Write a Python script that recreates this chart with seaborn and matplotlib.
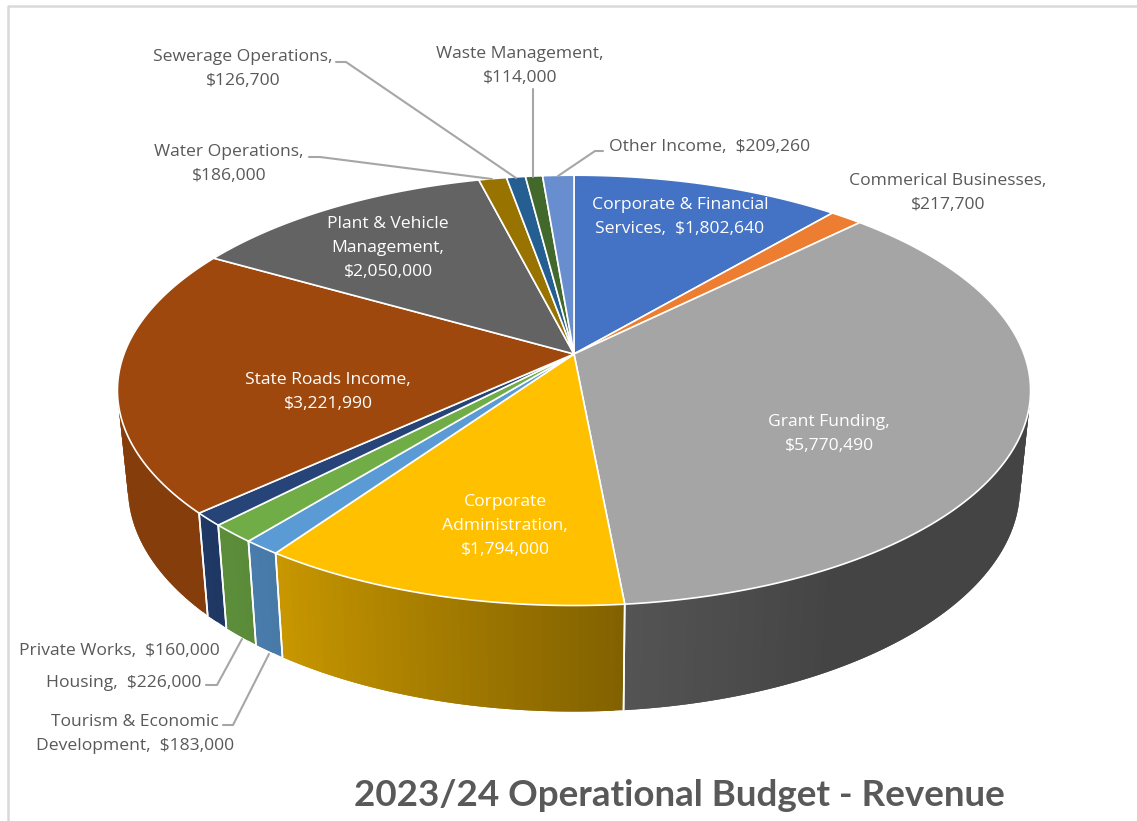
import numpy as np
import pandas as pd
import matplotlib
matplotlib.use("Agg")
import matplotlib.pyplot as plt
import seaborn as sns

categories = ["Corporate & Financial Services", "Commerical Businesses", "Grant Funding",
              "Corporate Administration", "Tourism & Economic Development", "Housing",
              "Private Works", "State Roads Income", "Plant & Vehicle Management",
              "Water Operations", "Sewerage Operations", "Waste Management", "Other Income"]
revenue = [1802640, 217700, 5770490, 1794000, 183000, 226000, 160000,
           3221990, 2050000, 186000, 126700, 114000, 209260]
colours = ["#4472C4", "#ED7D31", "#A5A5A5", "#FFC000", "#5B9BD5", "#70AD47", "#264478",
           "#9E480E", "#636363", "#997300", "#255E91", "#43682B", "#698ED0"]

# label text, centre position, colour
labels = [
    ("Corporate & Financial\nServices,  $1,802,640", 680, 217, "white"),
    ("Commerical Businesses,\n$217,700", 948, 193, "#595959"),
    ("Grant Funding,\n$5,770,490", 829, 434, "white"),
    ("Corporate\nAdministration,\n$1,794,000", 505, 526, "white"),
    ("Tourism & Economic\nDevelopment,  $183,000", 135, 734, "#595959"),
    ("Housing,  $226,000", 124, 683, "#595959"),
    ("Private Works,  $160,000", 119, 651, "#595959"),
    ("State Roads Income,\n$3,221,990", 328, 392, "white"),
    ("Plant & Vehicle\nManagement,\n$2,050,000", 388, 248, "white"),
    ("Water Operations,\n$186,000", 229, 164, "#595959"),
    ("Sewerage Operations,\n$126,700", 243, 69, "#595959"),
    ("Waste Management,\n$114,000", 520, 66, "#595959"),
    ("Other Income,  $209,260", 710, 147, "#595959"),
]

leaders = [
    [(336, 62), (346, 62), (516, 178)],
    [(533, 89), (533, 177)],
    [(309, 157), (320, 157), (492, 179)],
    [(558, 176), (595, 151), (603, 151)],
    [(206, 685), (217, 685), (242, 639)],
    [(223, 725), (233, 725), (269, 654)],
]

df = pd.DataFrame({"category": categories, "revenue": revenue})
df["start"] = df["revenue"].cumsum().shift(fill_value=0) / df["revenue"].sum() * 2 * np.pi
df["end"] = df["revenue"].cumsum() / df["revenue"].sum() * 2 * np.pi

sns.set_theme(style="white")
palette = sns.color_palette(colours)

CX, CY = 574, 354
A, B, K = 450, 209, 0.169


def top_xy(theta):
    u, v = np.sin(theta), np.cos(theta)
    w = 1 + K * v
    return CX + A * u / w, CY - B * v / w


def bottom_xy(theta):
    x, y = top_xy(theta)
    return CX + 0.977 * (x - CX), CY + 96 + 1.04 * (y - CY)


def side_shade(theta):
    deg = np.degrees(theta)
    return np.interp(deg, [90, 150, 175, 214, 230, 300], [0.41, 0.41, 0.51, 0.78, 0.85, 0.85])


fig, ax = plt.subplots(figsize=(11.37, 8.21), dpi=100)
ax.set_position([0, 0, 1, 1])
ax.set_xlim(0, 1137)
ax.set_ylim(821, 0)
ax.axis("off")
plt.rcParams["font.family"] = ["Open Sans", "DejaVu Sans"]

# chart frame, only the top and left edges are in the crop
ax.plot([8, 8, 1137], [821, 6, 6], color="#d9d9d9", lw=1.8, zorder=1)

# side wall, cut into thin strips for the gradient
for (_, row), colour in zip(df.iterrows(), palette):
    start, end = row["start"], row["end"]
    lo, hi = max(start, np.radians(70)), min(end, np.radians(300))
    if hi <= lo:
        continue
    edges = np.linspace(lo, hi, max(int((hi - lo) * 60), 2))
    for i, (a, b) in enumerate(zip(edges[:-1], edges[1:])):
        shade = side_shade((a + b) / 2)
        c = tuple(np.array(colour) * shade)
        # run each strip under the next one so no seams show
        far = edges[min(i + 2, len(edges) - 1)]
        xt, yt = top_xy(np.array([a, far]))
        xb, yb = bottom_xy(np.array([far, a]))
        ax.fill(np.r_[xt, xb], np.r_[yt, yb], color=c, lw=0, zorder=2)
    for t in (start, end):
        if np.radians(160) < t < np.radians(250):
            xt, yt = top_xy(t)
            xb, yb = bottom_xy(t)
            ax.plot([xt, xb], [yt, yb], color="white", lw=1.2, zorder=3)

# top face
for (_, row), colour in zip(df.iterrows(), palette):
    t = np.linspace(row["start"], row["end"], 200)
    x, y = top_xy(t)
    ax.fill(np.r_[CX, x], np.r_[CY, y], facecolor=colour, edgecolor="white", lw=1.2,
            joinstyle="round", zorder=4)

for pts in leaders:
    xs, ys = zip(*pts)
    ax.plot(xs, ys, color="#a6a6a6", lw=1.5, zorder=5)

for text, x, y, col in labels:
    ax.text(x, y, text, ha="center", va="center", color=col, fontsize=12.6, linespacing=1.69, zorder=6)

ax.text(679, 795, "2023/24 Operational Budget - Revenue", ha="center", va="center",
        color="#595959", fontsize=26.5, fontweight="bold", family=["Lato", "DejaVu Sans"], zorder=6)

fig.savefig("out.png", dpi=100, facecolor="white")
